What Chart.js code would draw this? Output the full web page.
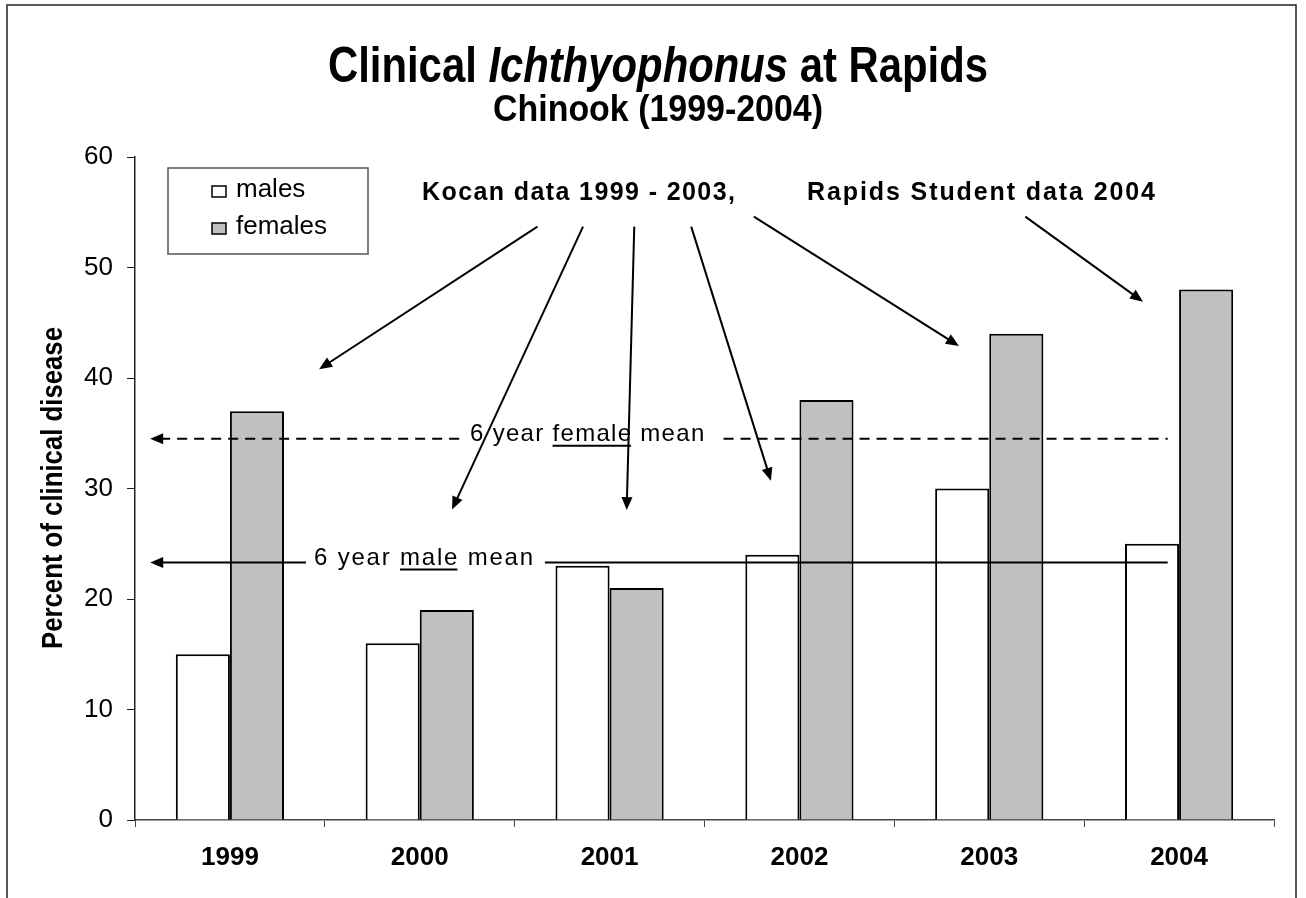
<!DOCTYPE html>
<html>
<head>
<meta charset="utf-8">
<script src="https://cdn.jsdelivr.net/npm/chart.js@4.4.1/dist/chart.umd.min.js"></script>
<style>
  html, body { margin: 0; padding: 0; background: #fff; }
  canvas { display: block; }
</style>
</head>
<body>
<canvas id="myChart" width="1306" height="898"></canvas>
<script>
const years = ['1999', '2000', '2001', '2002', '2003', '2004'];
const males = [15, 16, 23, 24, 30, 25];
const females = [37, 19, 21, 38, 44, 48];
const seriesNames = ['males', 'females'];
const femaleMean = 34.5;
const maleMean = 23.3;
// arrows in chart units: [category index, percent]
const arrowFrom = [[1.62, 53.7], [1.86, 53.7], [2.13, 53.7], [2.43, 53.7], [2.76, 54.6], [4.19, 54.6]];
const arrowTo = [[0.47, 40.8], [1.17, 28.1], [2.09, 28.05], [2.85, 30.7], [3.84, 42.9], [4.81, 46.9]];

const FONT = '"Liberation Sans", Arial, Helvetica, sans-serif';
Chart.defaults.font.family = FONT;
Chart.defaults.color = '#000';

function arrowHead(ctx, x1, y1, x2, y2) {
  const a = Math.atan2(y2 - y1, x2 - x1);
  const len = 13, w = 5.5;
  const c = Math.cos(a), s = Math.sin(a);
  ctx.beginPath();
  ctx.moveTo(x1, y1);
  ctx.lineTo(x2 - c * len * 0.8, y2 - s * len * 0.8);
  ctx.stroke();
  ctx.beginPath();
  ctx.moveTo(x2, y2);
  ctx.lineTo(x2 - c * len + s * w, y2 - s * len - c * w);
  ctx.lineTo(x2 - c * len - s * w, y2 - s * len + c * w);
  ctx.closePath();
  ctx.fill();
}

// draws runs of [text, font, underline] one after another, returns end x
function drawRuns(ctx, runs, x, y, spacing) {
  ctx.letterSpacing = spacing + 'px';
  ctx.textAlign = 'left';
  ctx.textBaseline = 'alphabetic';
  runs.forEach(r => {
    ctx.font = r[1];
    const w = ctx.measureText(r[0]).width;
    ctx.fillText(r[0], x, y);
    if (r[2]) {
      ctx.lineWidth = 2;
      ctx.setLineDash([]);
      ctx.beginPath();
      ctx.moveTo(x, y + 5);
      ctx.lineTo(x + w - spacing, y + 5);
      ctx.stroke();
    }
    x += w;
  });
  ctx.letterSpacing = '0px';
  return x;
}

// draws runs squeezed to a given total width, centred on cx
function drawFitted(ctx, runs, cx, y, width) {
  let total = 0;
  runs.forEach(r => { ctx.font = r[1]; total += ctx.measureText(r[0]).width; });
  ctx.save();
  ctx.translate(cx, y);
  ctx.scale(width / total, 1);
  ctx.textAlign = 'left';
  ctx.textBaseline = 'alphabetic';
  let x = -total / 2;
  runs.forEach(r => { ctx.font = r[1]; ctx.fillText(r[0], x, 0); x += ctx.measureText(r[0]).width; });
  ctx.restore();
}

const annotations = {
  id: 'annotations',
  afterDatasetsDraw(chart) {
    const ctx = chart.ctx;
    const xs = chart.scales.x, ys = chart.scales.y;
    ctx.save();
    ctx.strokeStyle = '#000';
    ctx.fillStyle = '#000';
    ctx.lineWidth = 2;

    // mean lines
    const x0 = xs.getPixelForValue(-0.42);
    const x1 = xs.getPixelForValue(4.94);
    const fy = ys.getPixelForValue(femaleMean);
    const my = ys.getPixelForValue(maleMean);

    const fText = xs.getPixelForValue(1.265);
    const fEnd = drawRuns(ctx, [['6 year ', '24px ' + FONT], ['female', '24px ' + FONT, true], [' mean', '24px ' + FONT]], fText, fy + 2, 1.3);
    ctx.setLineDash([10, 7]);
    ctx.beginPath();
    ctx.moveTo(x0 + 10, fy); ctx.lineTo(fText - 8, fy);
    ctx.moveTo(fEnd + 18, fy); ctx.lineTo(x1, fy);
    ctx.stroke();
    ctx.setLineDash([]);
    arrowHead(ctx, x0 + 12, fy, x0, fy);

    const mText = xs.getPixelForValue(0.443);
    const mEnd = drawRuns(ctx, [['6 year ', '24px ' + FONT], ['male', '24px ' + FONT, true], [' mean', '24px ' + FONT]], mText, my + 2, 1.8);
    ctx.beginPath();
    ctx.moveTo(x0 + 10, my); ctx.lineTo(mText - 8, my);
    ctx.moveTo(mEnd + 10, my); ctx.lineTo(x1, my);
    ctx.stroke();
    arrowHead(ctx, x0 + 12, my, x0, my);

    // source arrows
    arrowFrom.forEach((f, i) => {
      const t = arrowTo[i];
      arrowHead(ctx, xs.getPixelForValue(f[0]), ys.getPixelForValue(f[1]),
        xs.getPixelForValue(t[0]), ys.getPixelForValue(t[1]));
    });
    ctx.restore();
  },
  afterDraw(chart) {
    const ctx = chart.ctx;
    ctx.save();
    ctx.fillStyle = '#000';

    // outer frame
    ctx.strokeStyle = '#222';
    ctx.lineWidth = 1.5;
    ctx.beginPath();
    ctx.moveTo(7, 900); ctx.lineTo(7, 5); ctx.lineTo(1296, 5); ctx.lineTo(1296, 900);
    ctx.stroke();

    // titles
    drawFitted(ctx, [['Clinical ', 'bold 50px ' + FONT], ['Ichthyophonus', 'italic bold 50px ' + FONT], [' at Rapids', 'bold 50px ' + FONT]], 658, 82, 660);
    drawFitted(ctx, [['Chinook (1999-2004)', 'bold 36px ' + FONT]], 658, 121, 330);

    // y axis title
    ctx.save();
    ctx.translate(52, 488);
    ctx.rotate(-Math.PI / 2);
    drawFitted(ctx, [['Percent of clinical disease', 'bold 29px ' + FONT]], 0, 10, 322);
    ctx.restore();

    // source labels
    drawRuns(ctx, [['Kocan data 1999 - 2003,', 'bold 25px ' + FONT]], 422, 200, 1.4);
    drawRuns(ctx, [['Rapids Student data 2004', 'bold 25px ' + FONT]], 807, 200, 1.9);

    // legend
    ctx.strokeStyle = '#555';
    ctx.lineWidth = 1.5;
    ctx.strokeRect(168, 168, 200, 86);
    const fills = ['#ffffff', '#c0c0c0'];
    seriesNames.forEach((name, i) => {
      const y = 186 + i * 37;
      ctx.fillStyle = fills[i];
      ctx.fillRect(212, y, 14, 11);
      ctx.strokeStyle = '#000';
      ctx.lineWidth = 1.5;
      ctx.strokeRect(212, y, 14, 11);
      ctx.fillStyle = '#000';
      ctx.font = '26px ' + FONT;
      ctx.textAlign = 'left';
      ctx.textBaseline = 'alphabetic';
      ctx.fillText(name, 236, y + 11);
    });
    ctx.restore();
  }
};

const ctx = document.getElementById('myChart').getContext('2d');
const myChart = new Chart(ctx, {
  type: 'bar',
  data: {
    labels: years,
    datasets: [{
      label: seriesNames[0],
      data: males,
      backgroundColor: '#ffffff',
      borderColor: '#000',
      borderWidth: 2
    }, {
      label: seriesNames[1],
      data: females,
      backgroundColor: '#c0c0c0',
      borderColor: '#000',
      borderWidth: 2
    }]
  },
  options: {
    responsive: false,
    animation: false,
    devicePixelRatio: 1,
    layout: { padding: { top: 157, right: 32, left: 0, bottom: 0 } },
    datasets: { bar: { categoryPercentage: 0.57, barPercentage: 1 } },
    plugins: { legend: { display: false }, tooltip: { enabled: false }, title: { display: false } },
    scales: {
      x: {
        afterFit: s => { s.height = 78; },
        grid: { drawOnChartArea: false, tickLength: 7, tickColor: '#444', lineWidth: 1 },
        border: { color: '#444', width: 1.5 },
        ticks: { font: { size: 26, weight: 'bold' }, padding: 15, color: '#000' }
      },
      y: {
        min: 0,
        max: 60,
        afterFit: s => { s.width = 135; },
        grid: { drawOnChartArea: false, tickLength: 8, tickColor: '#222', lineWidth: 1 },
        border: { color: '#222', width: 1.5 },
        ticks: { stepSize: 10, font: { size: 26 }, padding: 14, color: '#000' }
      }
    }
  },
  plugins: [annotations]
});
</script>
</body>
</html>
